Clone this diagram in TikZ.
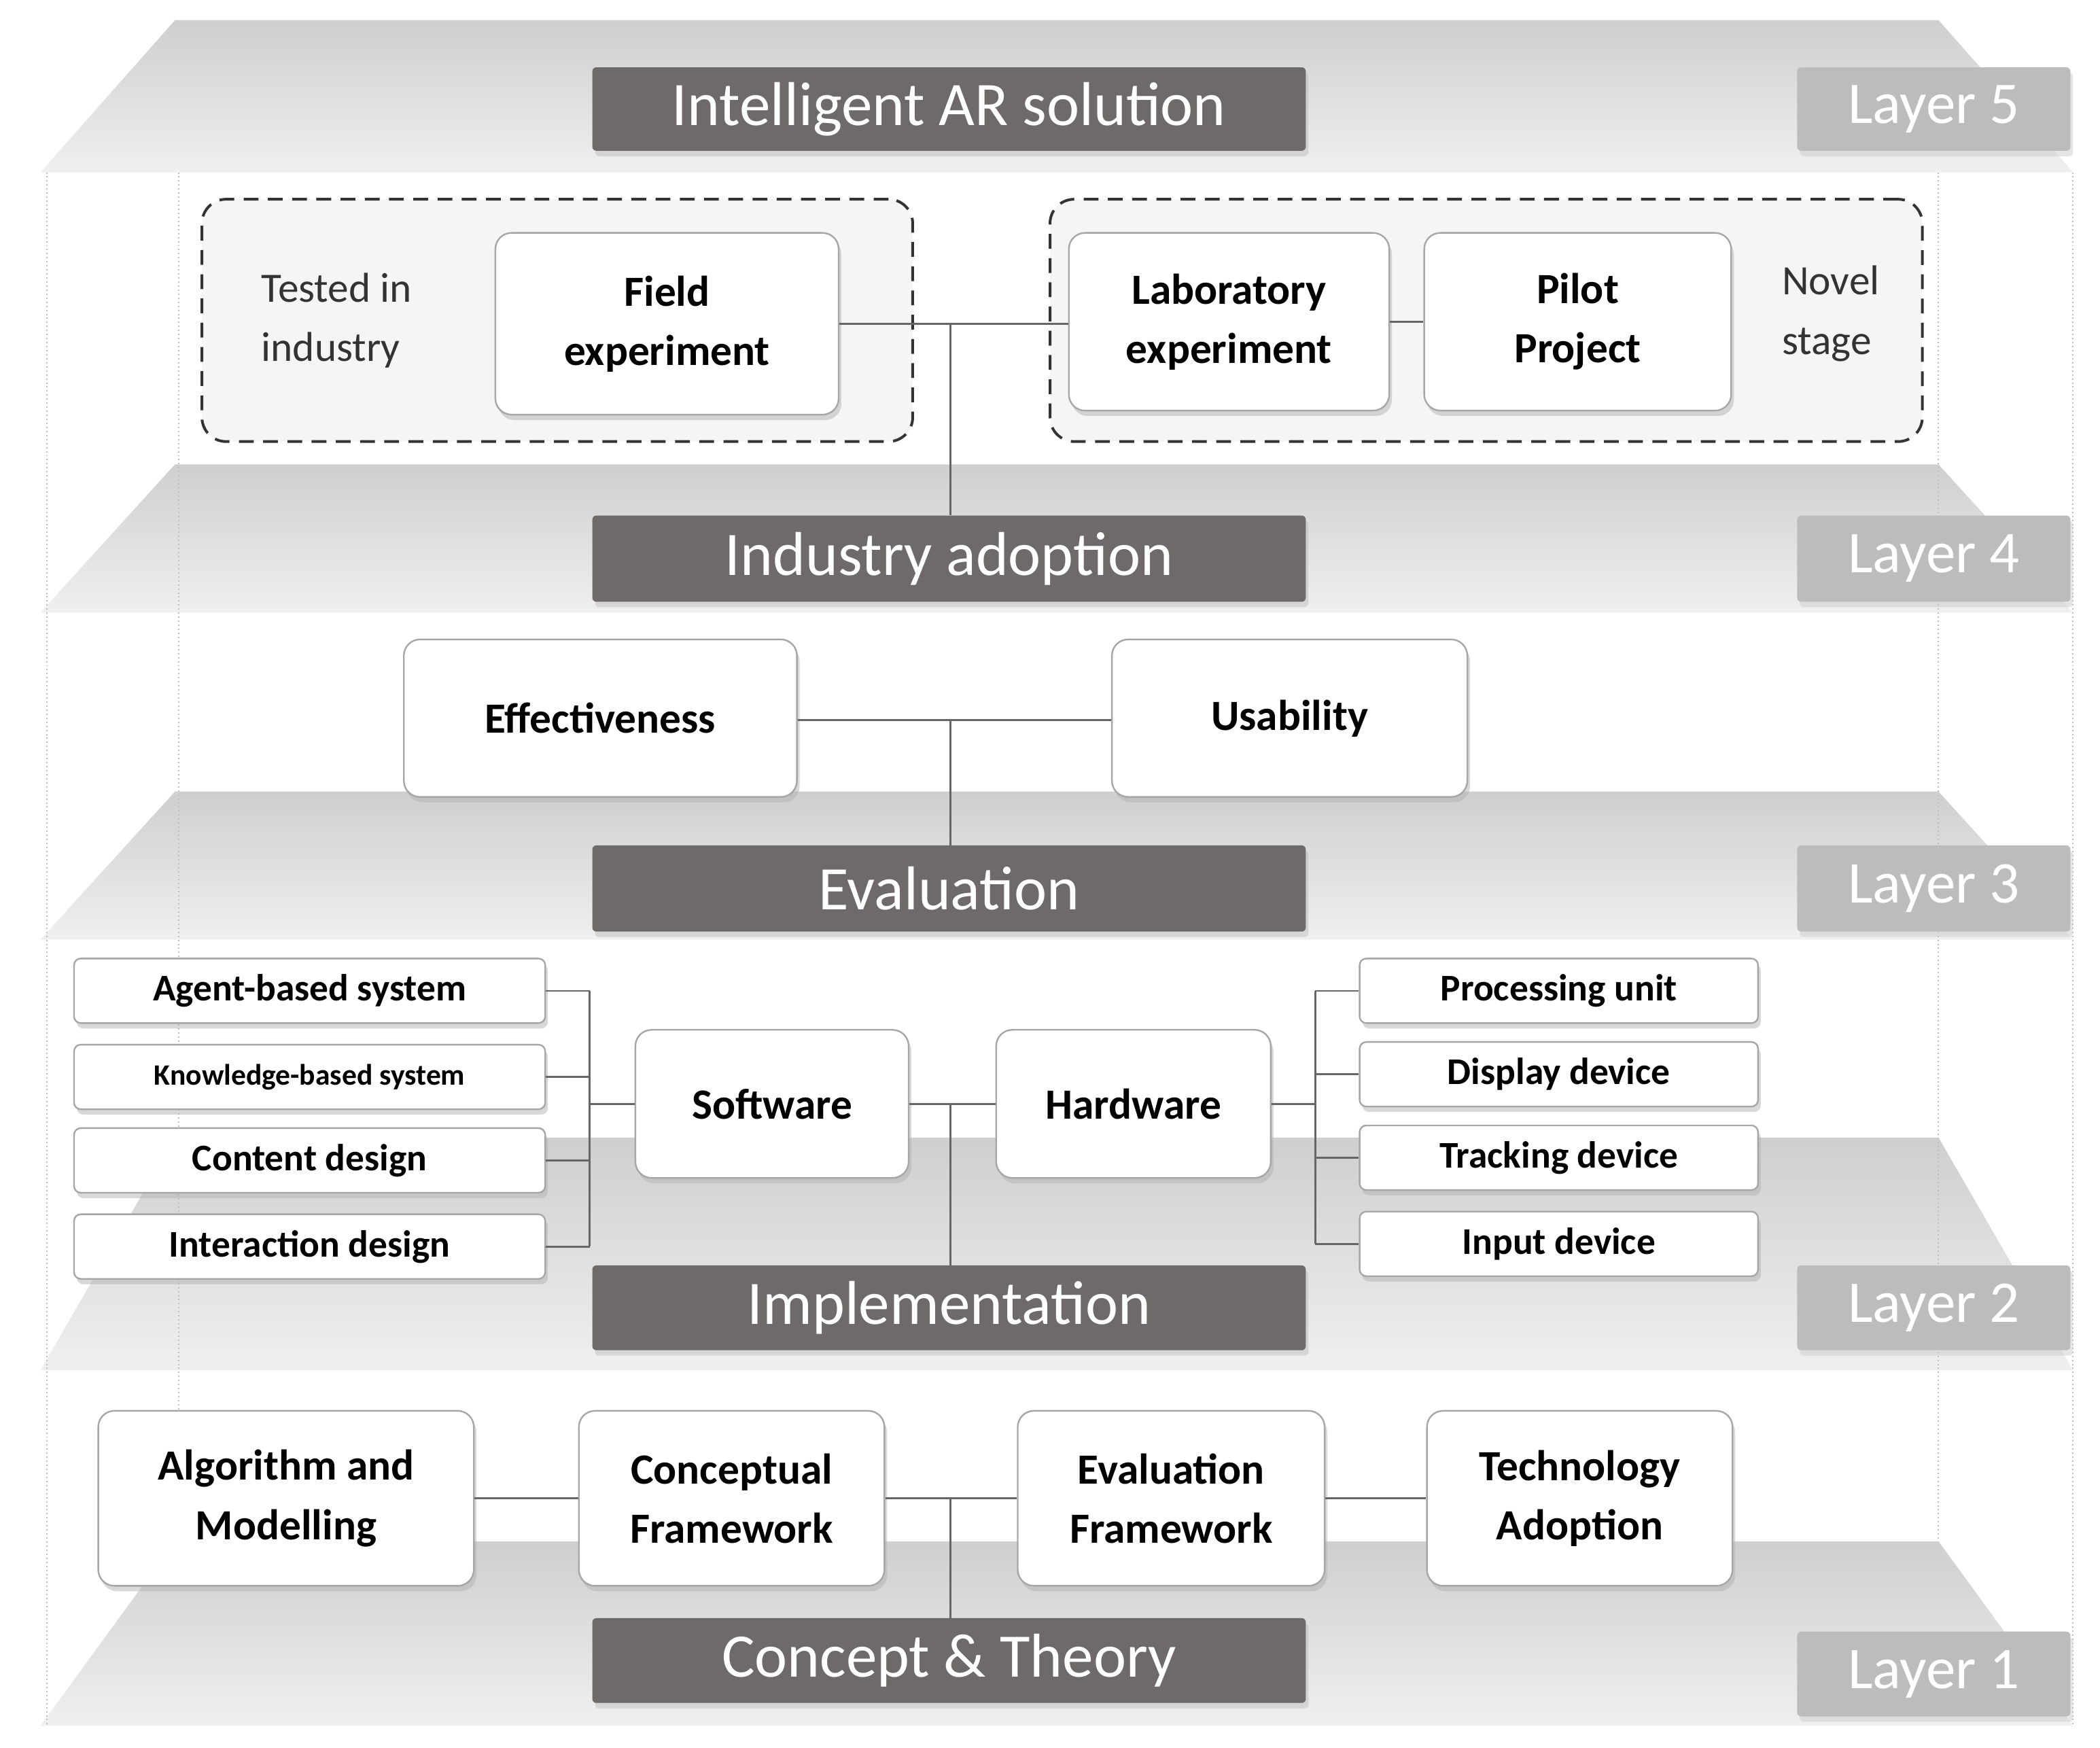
\documentclass[tikz,border=0pt]{standalone}
\usepackage{fontspec}
\setmainfont{Carlito}
\usetikzlibrary{shadows}
\definecolor{dark}{HTML}{6E6A69}
\definecolor{lbl}{HTML}{BDBCBC}
\tikzset{
 wb/.style={draw=gray!70, line width=1.2pt, fill=white, rounded corners=12pt, drop shadow={shadow xshift=2pt,shadow yshift=-4pt,fill=gray!60}, font=\bfseries\fontsize{32}{44}\selectfont, align=center, inner sep=0pt},
 sb/.style={draw=gray!70, line width=1.2pt, fill=white, rounded corners=5pt, drop shadow={shadow xshift=2pt,shadow yshift=-4pt,fill=gray!60}, font=\bfseries\fontsize{28}{32}\selectfont, inner sep=0pt},
 db/.style={fill=dark, text=white, rounded corners=3pt, drop shadow={shadow xshift=2pt,shadow yshift=-4pt,fill=gray!50}, font=\fontsize{46}{52}\selectfont, inner sep=0pt},
 lb/.style={fill=lbl, text=white, rounded corners=3pt, drop shadow={shadow xshift=2pt,shadow yshift=-4pt,fill=gray!40}, font=\fontsize{44}{50}\selectfont, inner sep=0pt},
 cn/.style={draw=gray!80!black, line width=1.3pt},
 dl/.style={draw=gray!50, dotted, line width=1pt},
 dsh/.style={draw=black!80, dash pattern=on 11pt off 7pt, line width=2pt, fill=gray!8, rounded corners=18pt},
}
\newcommand\bx[7]{\node[#7, minimum width={(#4-#2)*1pt}, minimum height={(#5-#3)*1pt}] (#1) at ({(#2+#4)/2},{(#3+#5)/2}) {#6};}
\newcommand\plane[2]{\shade[top color=gray!38, bottom color=gray!12] (130,#1) -- (1440,#1) -- (1540,#2) -- (30,#2) -- cycle;}
\begin{document}
\begin{tikzpicture}[x=1pt,y=-1pt]
\fill[white] (0,0) rectangle (1560,1298);
\useasboundingbox (0,0) rectangle (1560,1298);
\plane{15}{128}\plane{345}{455}\plane{588}{698}\plane{845}{1018}\plane{1145}{1282}
\draw[dl] (35,128) -- (35,1282); \draw[dl] (1540,128) -- (1540,1282);
\draw[dl] (133,128) -- (133,1145); \draw[dl] (1440,128) -- (1440,1145);
% layer 5
\bx{l5}{440}{50}{970}{112}{Intelligent AR solution}{db}
\bx{t5}{1335}{50}{1538}{112}{Layer 5}{lb}
% layer 4
\node[dsh, minimum width=528pt, minimum height=180pt] (dl4) at (414,238) {};
\node[dsh, minimum width=648pt, minimum height=180pt] (dr4) at (1104,238) {};
\node[font=\fontsize{31}{44}\selectfont, align=left, text=black!80] (ti) at (250,238) {Tested in\\industry};
\node[font=\fontsize{31}{44}\selectfont, align=left, text=black!80] (ns) at (1360,233) {Novel\\stage};
\bx{fe}{368}{173}{623}{308}{Field\\experiment}{wb}
\bx{le}{794}{173}{1032}{305}{Laboratory\\experiment}{wb}
\bx{pp}{1058}{173}{1286}{305}{Pilot\\Project}{wb}
\bx{l4}{440}{383}{970}{447}{Industry adoption}{db}
\bx{t4}{1335}{383}{1538}{447}{Layer 4}{lb}
\coordinate (j4) at (706,240);
\draw[cn] (fe.east) -- (fe.east -| le.west);
\draw[cn] (le.east |- pp.west) -- (pp.west);
\draw[cn] (j4) -- (j4 |- l4.north);
% layer 3
\bx{ef}{300}{475}{592}{592}{Effectiveness}{wb}
\bx{us}{826}{475}{1090}{592}{Usability}{wb}
\bx{l3}{440}{628}{970}{692}{Evaluation}{db}
\bx{t3}{1335}{628}{1538}{692}{Layer 3}{lb}
\coordinate (j3) at (706,535);
\draw[cn] (ef.east |- j3) -- (us.west |- j3);
\draw[cn] (j3) -- (j3 |- l3.north);
% layer 2
\bx{a1}{55}{712}{405}{760}{Agent-based system}{sb}
\bx{a2}{55}{776}{405}{824}{\fontsize{22}{26}\selectfont Knowledge-based system}{sb}
\bx{a3}{55}{838}{405}{886}{Content design}{sb}
\bx{a4}{55}{902}{405}{950}{Interaction design}{sb}
\bx{b1}{1010}{712}{1306}{760}{Processing unit}{sb}
\bx{b2}{1010}{774}{1306}{822}{Display device}{sb}
\bx{b3}{1010}{836}{1306}{884}{Tracking device}{sb}
\bx{b4}{1010}{900}{1306}{948}{Input device}{sb}
\bx{sw}{472}{765}{675}{875}{Software}{wb}
\bx{hw}{740}{765}{944}{875}{Hardware}{wb}
\bx{l2}{440}{940}{970}{1003}{Implementation}{db}
\bx{t2}{1335}{940}{1538}{1003}{Layer 2}{lb}
\coordinate (bl) at (438,820); \coordinate (br) at (977,820); \coordinate (j2) at (706,820);
\foreach \n in {a1,a2,a3,a4} \draw[cn] (\n.east) -- (\n.east -| bl);
\draw[cn] (a1.east -| bl) -- (a4.east -| bl);
\draw[cn] (bl) -- (sw.west);
\foreach \n in {b1,b2,b3,b4} \draw[cn] (\n.west) -- (\n.west -| br);
\draw[cn] (b1.west -| br) -- (b4.west -| br);
\draw[cn] (br) -- (hw.east);
\draw[cn] (sw.east) -- (hw.west);
\draw[cn] (j2) -- (j2 |- l2.north);
% layer 1
\bx{am}{73}{1048}{352}{1178}{Algorithm and\\Modelling}{wb}
\bx{cf}{430}{1048}{657}{1178}{Conceptual\\Framework}{wb}
\bx{evf}{756}{1048}{984}{1178}{Evaluation\\Framework}{wb}
\bx{ta}{1060}{1048}{1287}{1178}{Technology\\Adoption}{wb}
\bx{l1}{440}{1202}{970}{1265}{Concept \& Theory}{db}
\bx{t1}{1335}{1212}{1538}{1275}{Layer 1}{lb}
\coordinate (j1) at (706,1112);
\draw[cn] (am.east) -- (cf.west);
\draw[cn] (cf.east) -- (evf.west);
\draw[cn] (evf.east) -- (ta.west);
\draw[cn] (j1) -- (j1 |- l1.north);
\end{tikzpicture}
\end{document}
